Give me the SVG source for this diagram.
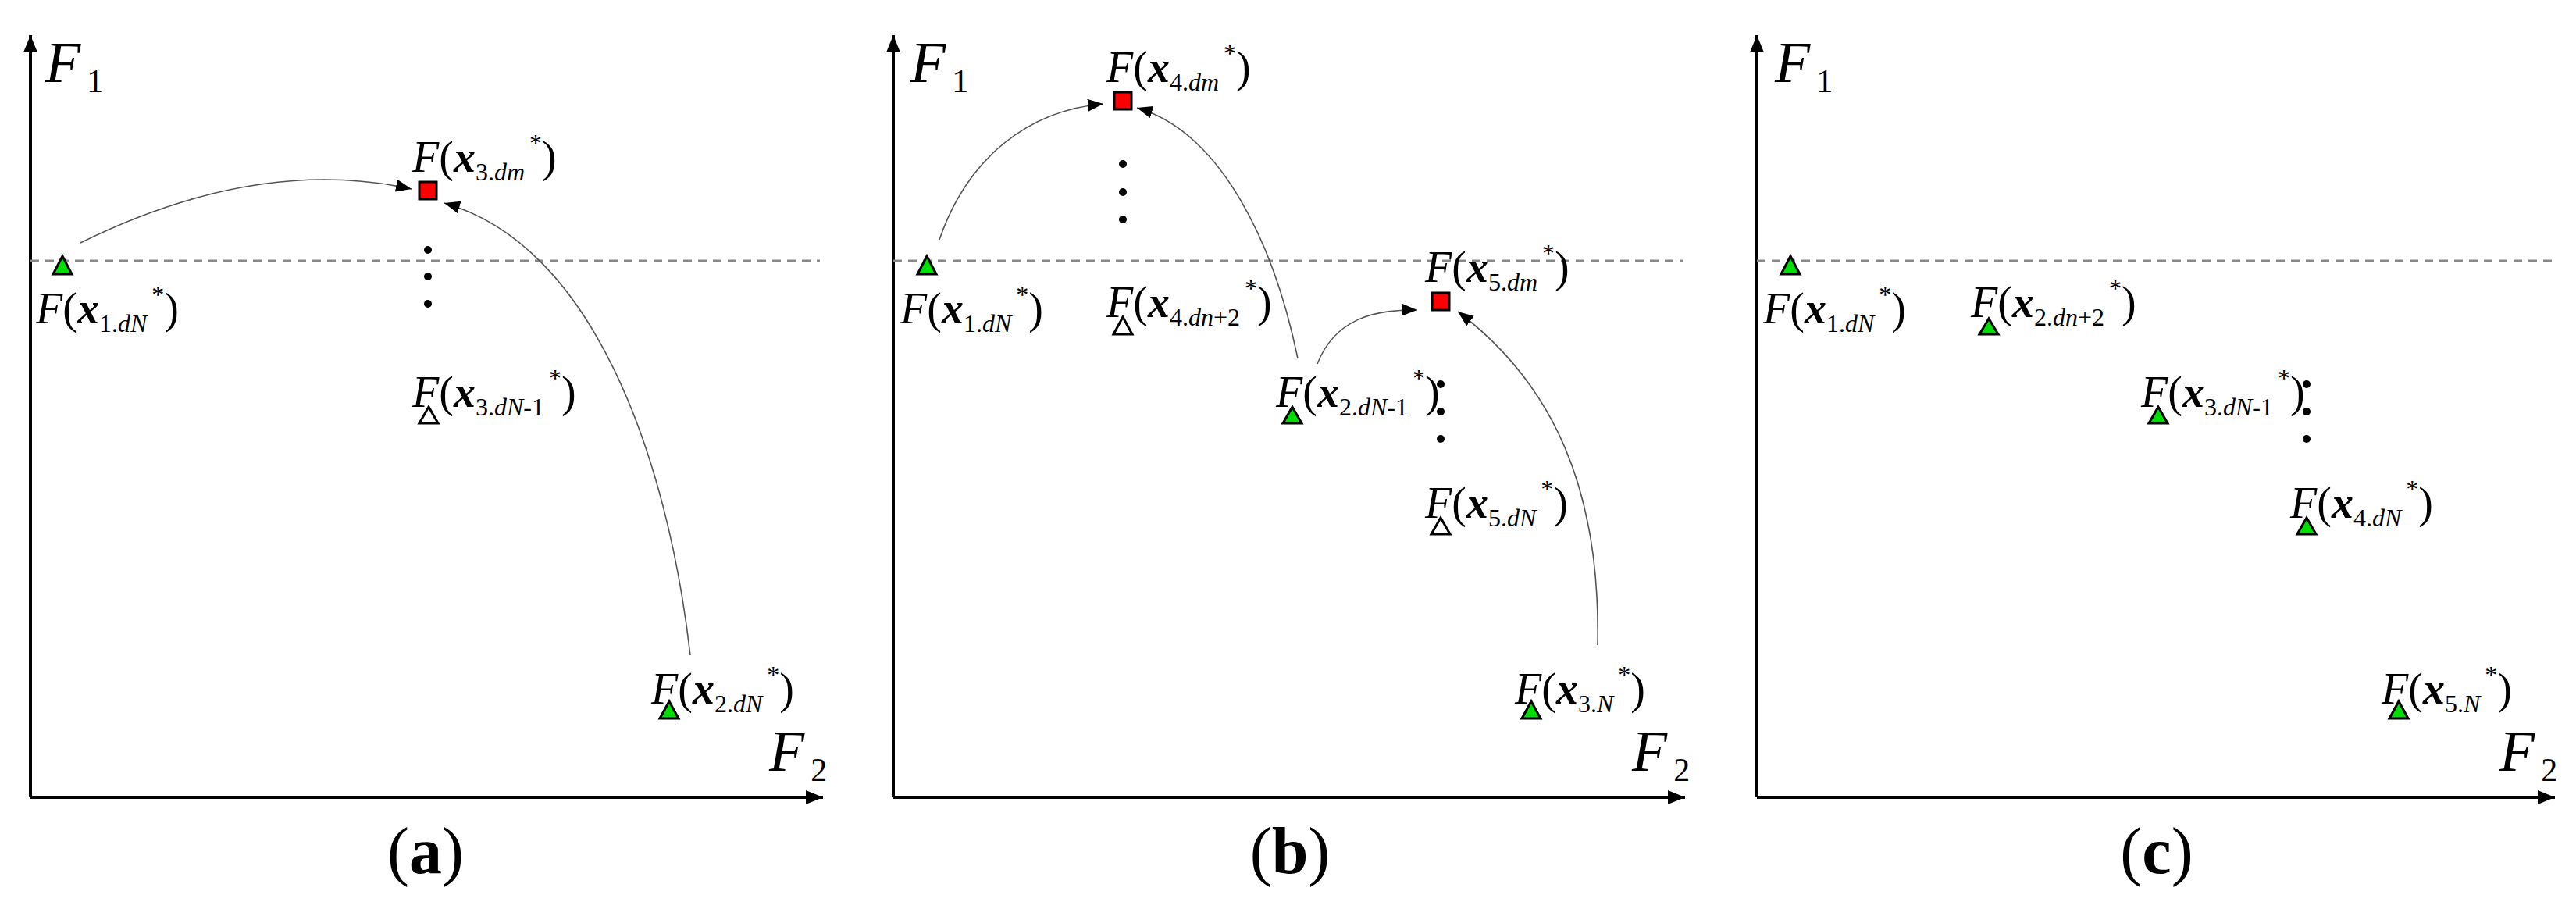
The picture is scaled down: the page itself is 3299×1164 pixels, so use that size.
<svg xmlns="http://www.w3.org/2000/svg" width="3299" height="1164" viewBox="0 0 3299 1164">
<defs>
<marker id="ah" markerUnits="userSpaceOnUse" markerWidth="22" markerHeight="16" refX="20" refY="8" orient="auto"><path d="M0,0 L20,8 L0,16 Z" fill="#000"/></marker>
<marker id="ax" markerUnits="userSpaceOnUse" markerWidth="24" markerHeight="18" refX="22" refY="9" orient="auto"><path d="M0,0 L22,9 L0,18 Z" fill="#000"/></marker>
<style>
.axis{stroke:#000;stroke-width:4;fill:none}
.dash{stroke:#888;stroke-width:3;stroke-dasharray:11 8;fill:none}
.cv{stroke:#555;stroke-width:1.6;fill:none}
.lb{font-family:"Liberation Serif",serif;font-size:56px;fill:#000}
.al{font-family:"Liberation Serif",serif;font-size:74px;fill:#000}
.i{font-style:italic}
.bi{font-style:italic;font-weight:bold}
.s{font-size:32px}
.cap{font-family:"Liberation Serif",serif;font-size:84px;fill:#000;text-anchor:middle}
.g{fill:#00dd00;stroke:#000;stroke-width:3}
.w{fill:#fff;stroke:#000;stroke-width:3}
.r{fill:#ff0000;stroke:#000;stroke-width:3}
</style>
</defs>
<rect width="3299" height="1164" fill="#fff"/>
<g id="axes">
<path class="axis" d="M39,1021 V45" marker-end="url(#ax)"/><path class="axis" d="M39,1021 H1054" marker-end="url(#ax)"/>
<path class="axis" d="M1144,1021 V45" marker-end="url(#ax)"/><path class="axis" d="M1144,1021 H2158" marker-end="url(#ax)"/>
<path class="axis" d="M2250,1021 V45" marker-end="url(#ax)"/><path class="axis" d="M2250,1021 H3272" marker-end="url(#ax)"/>
<path class="dash" d="M39,334 H1050"/><path class="dash" d="M1144,334 H2156"/><path class="dash" d="M2250,334 H3270"/>
<text class="al" x="58" y="105"><tspan class="i">F</tspan><tspan font-size="42" dx="8" y="118">1</tspan></text>
<text class="al" x="985" y="987"><tspan class="i">F</tspan><tspan font-size="42" dx="8" y="1000">2</tspan></text>
<text class="al" x="1166" y="105"><tspan class="i">F</tspan><tspan font-size="42" dx="8" y="118">1</tspan></text>
<text class="al" x="2090" y="987"><tspan class="i">F</tspan><tspan font-size="42" dx="8" y="1000">2</tspan></text>
<text class="al" x="2273" y="105"><tspan class="i">F</tspan><tspan font-size="42" dx="8" y="118">1</tspan></text>
<text class="al" x="3201" y="987"><tspan class="i">F</tspan><tspan font-size="42" dx="8" y="1000">2</tspan></text>
<text class="cap" x="545" y="1118">(<tspan font-weight="bold">a</tspan>)</text>
<text class="cap" x="1652" y="1118">(<tspan font-weight="bold">b</tspan>)</text>
<text class="cap" x="2762" y="1118">(<tspan font-weight="bold">c</tspan>)</text>
</g>
<g id="connectors">
<path class="cv" d="M103,311 Q330,199 527,242" marker-end="url(#ah)"/>
<path class="cv" d="M884,839 C855,586 760,314 569,260" marker-end="url(#ah)"/>
<path class="cv" d="M1203,307 C1240,199 1320,141 1413,133" marker-end="url(#ah)"/>
<path class="cv" d="M1662,459 C1630,304 1560,168 1456,138" marker-end="url(#ah)"/>
<path class="cv" d="M1687,466 C1710,408 1760,396 1815,397" marker-end="url(#ah)"/>
<path class="cv" d="M2046,826 C2050,628 1990,492 1867,399" marker-end="url(#ah)"/>
</g>
<g id="dots" fill="#000">
<circle cx="548" cy="320" r="5"/><circle cx="548" cy="354" r="5"/><circle cx="548" cy="389" r="5"/>
<circle cx="1438" cy="210" r="5"/><circle cx="1438" cy="246" r="5"/><circle cx="1438" cy="281" r="5"/>
<circle cx="1845" cy="492" r="5"/><circle cx="1845" cy="527" r="5"/><circle cx="1845" cy="562" r="5"/>
<circle cx="2954" cy="492" r="5"/><circle cx="2954" cy="527" r="5"/><circle cx="2954" cy="562" r="5"/>
</g>
<g id="a1"><polygon class="g" points="80,328 92,351 68,351"/>
<text class="lb" x="46" y="414"><tspan class="i">F</tspan>(<tspan class="bi">x</tspan><tspan class="s" y="425">1.<tspan class="i">dN</tspan></tspan><tspan class="s" y="388" dx="6">*</tspan><tspan y="414">)</tspan></text></g>
<g id="a3m"><rect class="r" x="537" y="233" width="22" height="22"/>
<text class="lb" x="528" y="220"><tspan class="i">F</tspan>(<tspan class="bi">x</tspan><tspan class="s" y="231">3.<tspan class="i">dm</tspan></tspan><tspan class="s" y="194" dx="6">*</tspan><tspan y="220">)</tspan></text></g>
<g id="a3n"><polygon class="w" points="549,521 561,542 537,542"/>
<text class="lb" x="528" y="521"><tspan class="i">F</tspan>(<tspan class="bi">x</tspan><tspan class="s" y="532">3.<tspan class="i">dN</tspan>-1</tspan><tspan class="s" y="495" dx="6">*</tspan><tspan y="521">)</tspan></text></g>
<g id="a2"><polygon class="g" points="857,898 869,920 845,920"/>
<text class="lb" x="834" y="901"><tspan class="i">F</tspan>(<tspan class="bi">x</tspan><tspan class="s" y="912">2.<tspan class="i">dN</tspan></tspan><tspan class="s" y="875" dx="6">*</tspan><tspan y="901">)</tspan></text></g>
<g id="b1"><polygon class="g" points="1187,328 1199,351 1175,351"/>
<text class="lb" x="1153" y="414"><tspan class="i">F</tspan>(<tspan class="bi">x</tspan><tspan class="s" y="425">1.<tspan class="i">dN</tspan></tspan><tspan class="s" y="388" dx="6">*</tspan><tspan y="414">)</tspan></text></g>
<g id="b4m"><rect class="r" x="1427" y="118" width="22" height="22"/>
<text class="lb" x="1417" y="105"><tspan class="i">F</tspan>(<tspan class="bi">x</tspan><tspan class="s" y="116">4.<tspan class="i">dm</tspan></tspan><tspan class="s" y="79" dx="6">*</tspan><tspan y="105">)</tspan></text></g>
<g id="b4n"><polygon class="w" points="1438,406 1450,428 1426,428"/>
<text class="lb" x="1417" y="406"><tspan class="i">F</tspan>(<tspan class="bi">x</tspan><tspan class="s" y="417">4.<tspan class="i">dn</tspan>+2</tspan><tspan class="s" y="380" dx="6">*</tspan><tspan y="406">)</tspan></text></g>
<g id="b5m"><rect class="r" x="1834" y="375" width="22" height="22"/>
<text class="lb" x="1825" y="361"><tspan class="i">F</tspan>(<tspan class="bi">x</tspan><tspan class="s" y="372">5.<tspan class="i">dm</tspan></tspan><tspan class="s" y="335" dx="6">*</tspan><tspan y="361">)</tspan></text></g>
<g id="b2"><polygon class="g" points="1655,521 1667,542 1643,542"/>
<text class="lb" x="1634" y="521"><tspan class="i">F</tspan>(<tspan class="bi">x</tspan><tspan class="s" y="532">2.<tspan class="i">dN</tspan>-1</tspan><tspan class="s" y="495" dx="6">*</tspan><tspan y="521">)</tspan></text></g>
<g id="b5n"><polygon class="w" points="1845,663 1857,684 1833,684"/>
<text class="lb" x="1825" y="663"><tspan class="i">F</tspan>(<tspan class="bi">x</tspan><tspan class="s" y="674">5.<tspan class="i">dN</tspan></tspan><tspan class="s" y="637" dx="6">*</tspan><tspan y="663">)</tspan></text></g>
<g id="b3"><polygon class="g" points="1961,898 1973,920 1949,920"/>
<text class="lb" x="1940" y="901"><tspan class="i">F</tspan>(<tspan class="bi">x</tspan><tspan class="s" y="912">3.<tspan class="i">N</tspan></tspan><tspan class="s" y="875" dx="6">*</tspan><tspan y="901">)</tspan></text></g>
<g id="c1"><polygon class="g" points="2293,328 2305,351 2281,351"/>
<text class="lb" x="2258" y="414"><tspan class="i">F</tspan>(<tspan class="bi">x</tspan><tspan class="s" y="425">1.<tspan class="i">dN</tspan></tspan><tspan class="s" y="388" dx="6">*</tspan><tspan y="414">)</tspan></text></g>
<g id="c2"><polygon class="g" points="2547,408 2559,428 2535,428"/>
<text class="lb" x="2524" y="406"><tspan class="i">F</tspan>(<tspan class="bi">x</tspan><tspan class="s" y="417">2.<tspan class="i">dn</tspan>+2</tspan><tspan class="s" y="380" dx="6">*</tspan><tspan y="406">)</tspan></text></g>
<g id="c3"><polygon class="g" points="2764,521 2776,542 2752,542"/>
<text class="lb" x="2742" y="521"><tspan class="i">F</tspan>(<tspan class="bi">x</tspan><tspan class="s" y="532">3.<tspan class="i">dN</tspan>-1</tspan><tspan class="s" y="495" dx="6">*</tspan><tspan y="521">)</tspan></text></g>
<g id="c4"><polygon class="g" points="2954,663 2966,684 2942,684"/>
<text class="lb" x="2933" y="663"><tspan class="i">F</tspan>(<tspan class="bi">x</tspan><tspan class="s" y="674">4.<tspan class="i">dN</tspan></tspan><tspan class="s" y="637" dx="6">*</tspan><tspan y="663">)</tspan></text></g>
<g id="c5"><polygon class="g" points="3072,898 3084,920 3060,920"/>
<text class="lb" x="3050" y="901"><tspan class="i">F</tspan>(<tspan class="bi">x</tspan><tspan class="s" y="912">5.<tspan class="i">N</tspan></tspan><tspan class="s" y="875" dx="6">*</tspan><tspan y="901">)</tspan></text></g>
</svg>
